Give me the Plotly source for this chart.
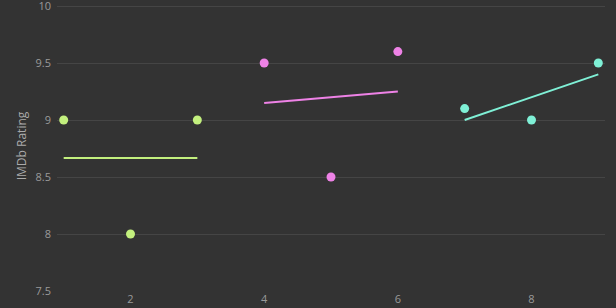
import numpy as np
import plotly.graph_objects as go

group_a_x = [1, 2, 3]
group_a_y = [9.0, 8.0, 9.0]
group_b_x = [4, 5, 6]
group_b_y = [9.5, 8.5, 9.6]
group_c_x = [7, 8, 9]
group_c_y = [9.1, 9.0, 9.5]
y_ticks = [7.5, 8, 8.5, 9, 9.5, 10]
y_labels = ["7.5", "8", "8.5", "9", "9.5", "10"]
colors = ["#c3f07e", "#ee82e6", "#7ff0d6"]

fig = go.Figure()
for xs, ys, c in [(group_a_x, group_a_y, colors[0]),
                  (group_b_x, group_b_y, colors[1]),
                  (group_c_x, group_c_y, colors[2])]:
    fig.add_trace(go.Scatter(x=xs, y=ys, mode="markers",
                             marker=dict(color=c, size=9), showlegend=False))
    slope, intercept = np.polyfit(xs, ys, 1)
    fx = [xs[0], xs[-1]]
    fy = [slope * v + intercept for v in fx]
    fig.add_trace(go.Scatter(x=fx, y=fy, mode="lines",
                             line=dict(color=c, width=2), showlegend=False))

fig.update_layout(
    width=616, height=308,
    margin=dict(l=57, r=11, t=1, b=17),
    paper_bgcolor="#333333", plot_bgcolor="#333333",
    font=dict(family="Open Sans", color="#9a9a9a", size=11),
    xaxis=dict(range=[0.9, 9.1], showgrid=False, zeroline=False,
               tickvals=[2, 4, 6, 8], ticks="", showline=False),
    yaxis=dict(range=[7.5, 10.044], tickvals=y_ticks, ticktext=y_labels,
               showgrid=True, gridcolor="#454545", automargin=False,
               ticklabeloverflow="allow", ticklabelstandoff=5,
               gridwidth=1, zeroline=False, showline=False,
               title=dict(text="IMDb Rating", font=dict(size=12, color="#aaaaaa"), standoff=6)),
)
fig.write_html("out.html")
